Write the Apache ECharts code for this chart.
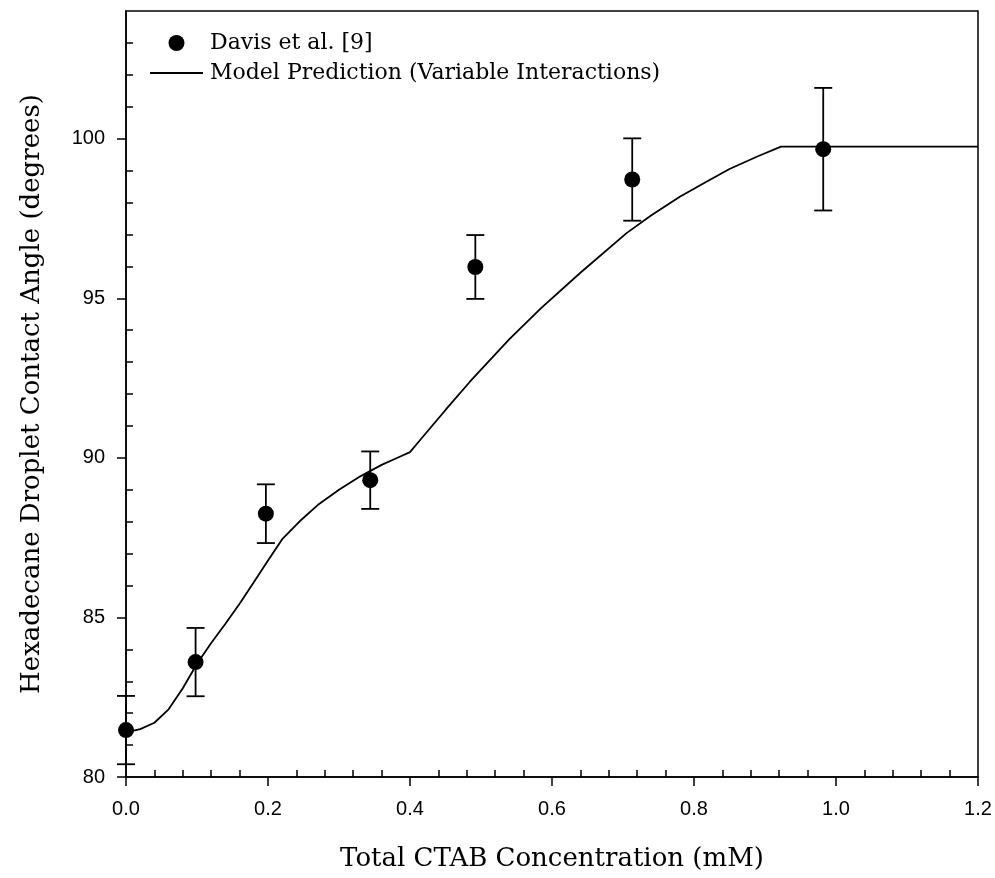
<!DOCTYPE html>
<html>
<head>
<meta charset="utf-8">
<script src="https://cdn.jsdelivr.net/npm/echarts@6/dist/echarts.min.js"></script>
<style>
  html, body { margin: 0; padding: 0; background: #ffffff; }
  #chart { width: 995px; height: 878px; }
</style>
</head>
<body>
<div id="chart"></div>
<script>
// Measured contact angles (Davis et al.) with their error half-widths
const concentration = [0, 0.098, 0.197, 0.344, 0.492, 0.713, 0.982];
const contactAngle  = [81.47, 83.60, 88.25, 89.30, 95.98, 98.72, 99.67];
const angleError    = [1.07, 1.07, 0.92, 0.90, 1.00, 1.29, 1.92];

// Model prediction curve (variable interactions)
const modelConc  = [0, 0.02, 0.04, 0.06, 0.08, 0.10, 0.12, 0.14, 0.16, 0.18, 0.20, 0.22, 0.245, 0.27, 0.30, 0.33, 0.36, 0.38, 0.40,
                    0.414, 0.45, 0.485, 0.54, 0.585, 0.64, 0.705, 0.74, 0.78, 0.82, 0.85, 0.89, 0.9225, 1.2];
const modelAngle = [81.40, 81.50, 81.70, 82.12, 82.78, 83.55, 84.20, 84.80, 85.43, 86.10, 86.78, 87.45, 88.02, 88.52, 89.00, 89.42, 89.78, 89.98, 90.18,
                    90.55, 91.50, 92.40, 93.72, 94.70, 95.80, 97.04, 97.60, 98.18, 98.68, 99.05, 99.45, 99.75, 99.75];

// Tick positions
const xMajorTicks = [0, 0.2, 0.4, 0.6, 0.8, 1.0, 1.2];
const xMinorTicks = [0.04, 0.08, 0.12, 0.16, 0.24, 0.28, 0.32, 0.36, 0.44, 0.48, 0.52, 0.56,
                     0.64, 0.68, 0.72, 0.76, 0.84, 0.88, 0.92, 0.96, 1.04, 1.08, 1.12, 1.16];
const yMajorTicks = [80, 85, 90, 95, 100];
const yMinorTicks = [81, 82, 83, 84, 86, 87, 88, 89, 91, 92, 93, 94, 96, 97, 98, 99, 101, 102, 103];

const serifFont = 'DejaVu Serif';
const sansFont = 'Liberation Sans';

const chart = echarts.init(document.getElementById('chart'), null, { renderer: 'canvas' });

const measured = concentration.map((c, i) => [c, contactAngle[i], angleError[i]]);
const model = modelConc.map((c, i) => [c, modelAngle[i]]);

chart.setOption({
  animation: false,
  backgroundColor: '#ffffff',
  grid: {
    left: 126, right: 17, top: 11, bottom: 101,
    show: true, borderColor: '#000', borderWidth: 1.5, backgroundColor: 'transparent'
  },
  legend: {
    orient: 'vertical',
    left: 144, top: 26,
    itemWidth: 53, itemHeight: 16, itemGap: 6,
    selectedMode: false,
    textStyle: { fontFamily: serifFont, fontSize: 22, color: '#000', padding: [0, 0, 0, 2], lineHeight: 24 },
    data: [
      { name: 'Davis et al. [9]', icon: 'circle', itemStyle: { color: '#000', opacity: 1 } },
      { name: 'Model Prediction (Variable Interactions)', itemStyle: { opacity: 0 } }
    ]
  },
  xAxis: [
    {
      type: 'value', min: 0, max: 1.2,
      name: 'Total CTAB Concentration (mM)', nameLocation: 'middle', nameGap: 69,
      nameTextStyle: { fontFamily: serifFont, fontSize: 26, color: '#000' },
      axisLine: { show: true, lineStyle: { color: '#000', width: 1.5 } },
      axisTick: { show: true, inside: false, length: 9, lineStyle: { color: '#000', width: 1.5 }, customValues: xMajorTicks },
      axisLabel: { show: true, margin: 22, fontFamily: sansFont, fontSize: 20, color: '#000', customValues: xMajorTicks,
                   formatter: v => v.toFixed(1) },
      splitLine: { show: false }
    },
    {
      type: 'value', min: 0, max: 1.2, gridIndex: 0, position: 'bottom',
      axisLine: { show: false },
      axisTick: { show: true, inside: true, length: 7, lineStyle: { color: '#000', width: 1.5 }, customValues: xMinorTicks },
      axisLabel: { show: false },
      splitLine: { show: false }
    }
  ],
  yAxis: [
    {
      type: 'value', min: 80, max: 104,
      name: 'Hexadecane Droplet Contact Angle (degrees)', nameLocation: 'middle', nameGap: 81,
      nameTextStyle: { fontFamily: serifFont, fontSize: 26, color: '#000' },
      axisLine: { show: true, lineStyle: { color: '#000', width: 1.5 } },
      axisTick: { show: true, inside: false, length: 9, lineStyle: { color: '#000', width: 1.5 }, customValues: yMajorTicks },
      axisLabel: { show: true, margin: 21, fontFamily: sansFont, fontSize: 20, color: '#000', customValues: yMajorTicks },
      splitLine: { show: false }
    },
    {
      type: 'value', min: 80, max: 104, gridIndex: 0, position: 'left',
      axisLine: { show: false },
      axisTick: { show: true, inside: true, length: 7, lineStyle: { color: '#000', width: 1.5 }, customValues: yMinorTicks },
      axisLabel: { show: false },
      splitLine: { show: false }
    }
  ],
  series: [
    {
      name: 'Model Prediction (Variable Interactions)',
      type: 'line',
      data: model,
      symbol: 'none',
      showSymbol: false,
      lineStyle: { color: '#000', width: 1.8 },
      itemStyle: { color: '#000' },
      z: 3
    },
    {
      name: 'error bars',
      type: 'custom',
      data: measured,
      clip: false,
      renderItem: function (params, api) {
        const x = api.value(0), y = api.value(1), e = api.value(2);
        const top = api.coord([x, y + e]);
        const bot = api.coord([x, y - e]);
        const hw = 9;
        const style = { stroke: '#000', lineWidth: 1.8 };
        return {
          type: 'group',
          children: [
            { type: 'line', shape: { x1: top[0], y1: top[1], x2: bot[0], y2: bot[1] }, style: style },
            { type: 'line', shape: { x1: top[0] - hw, y1: top[1], x2: top[0] + hw, y2: top[1] }, style: style },
            { type: 'line', shape: { x1: bot[0] - hw, y1: bot[1], x2: bot[0] + hw, y2: bot[1] }, style: style }
          ]
        };
      },
      z: 4
    },
    {
      name: 'Davis et al. [9]',
      type: 'scatter',
      data: measured.map(d => [d[0], d[1]]),
      symbol: 'circle',
      symbolSize: 16,
      itemStyle: { color: '#000', opacity: 1 },
      clip: false,
      z: 5
    }
  ]
});
</script>
</body>
</html>
